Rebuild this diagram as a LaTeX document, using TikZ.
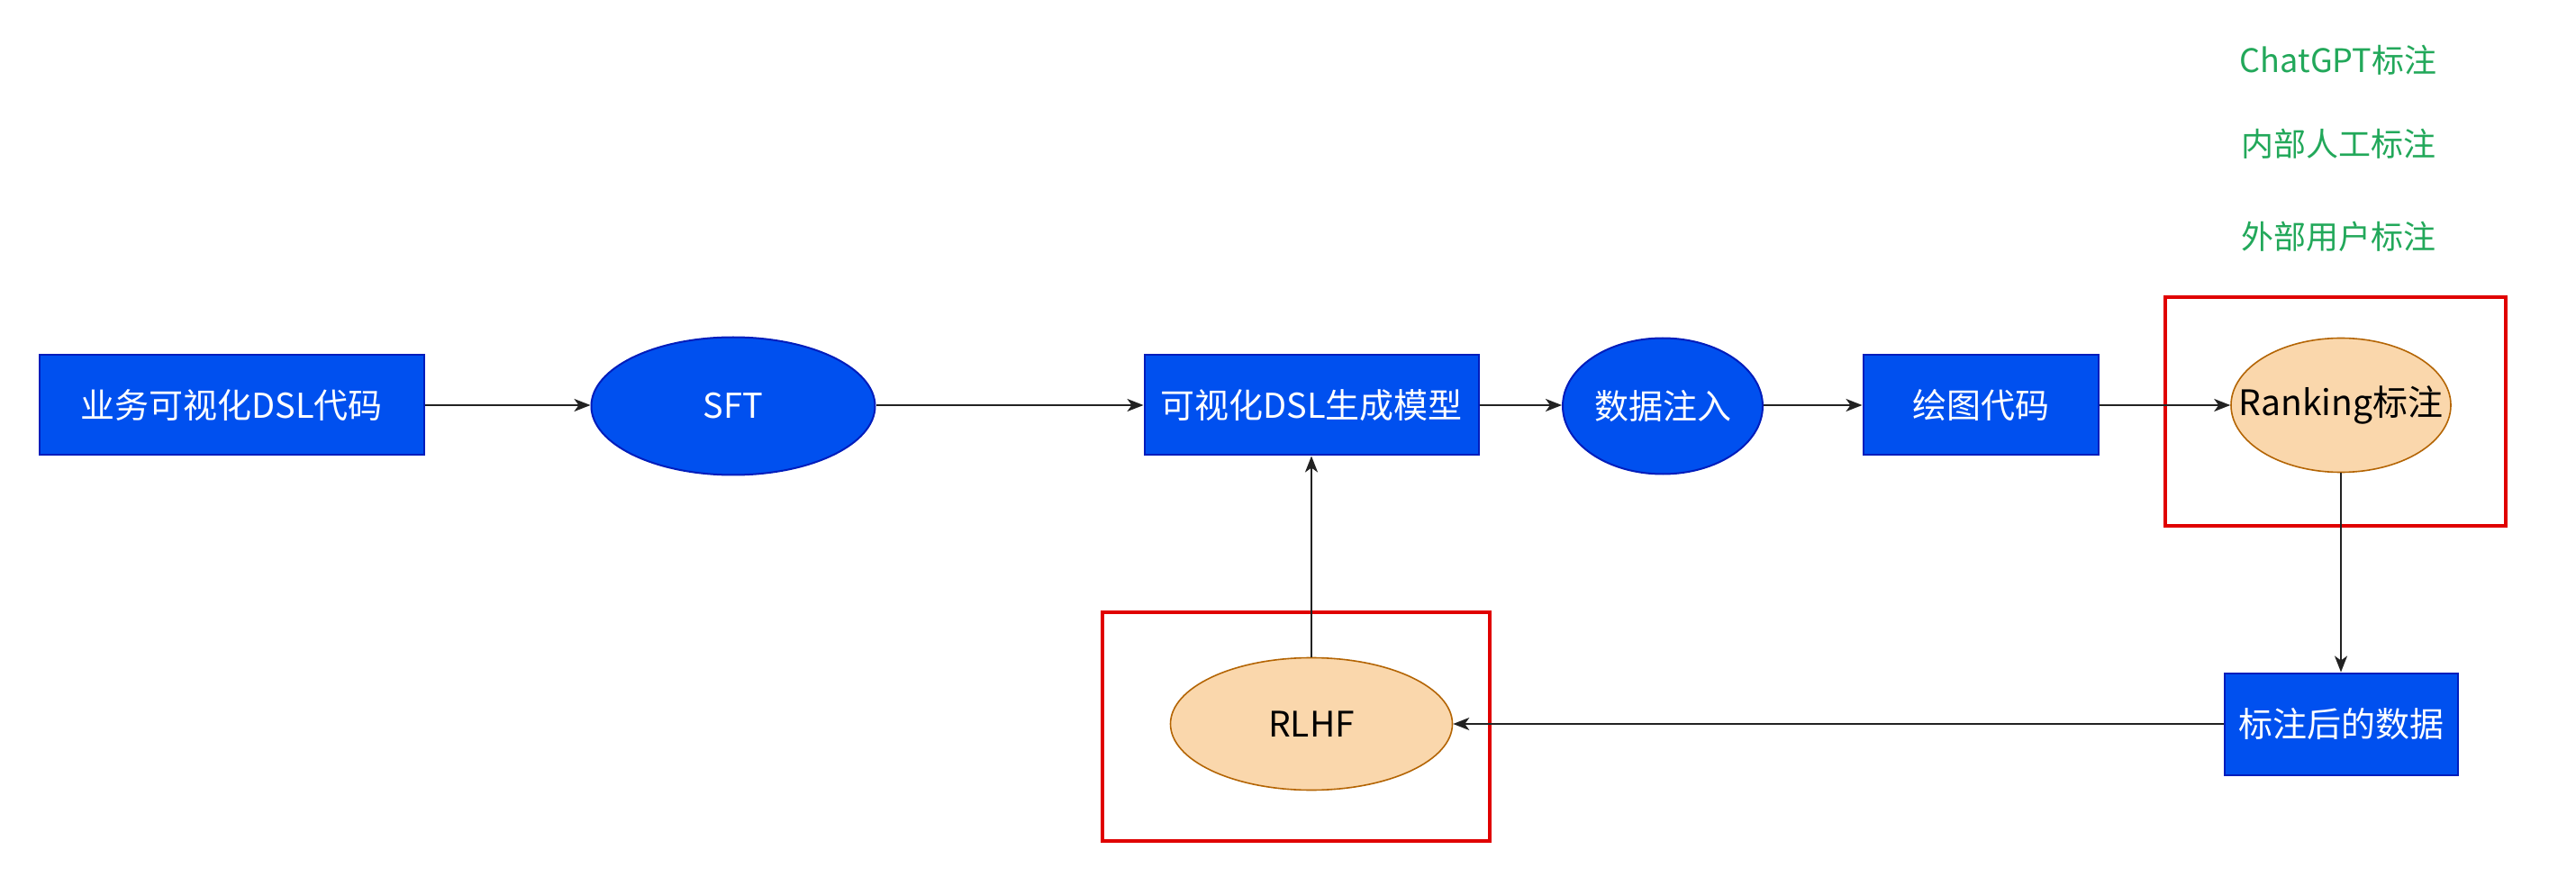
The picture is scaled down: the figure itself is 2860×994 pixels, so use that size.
\documentclass[tikz,border=0pt]{standalone}
\usepackage{fontspec}
\setmainfont{Noto Sans CJK SC}
\usetikzlibrary{shapes.geometric,arrows.meta}
\definecolor{bluefill}{HTML}{0050EF}
\definecolor{bluedraw}{HTML}{001DBC}
\definecolor{orfill}{HTML}{FAD7AC}
\definecolor{ordraw}{HTML}{B46504}
\definecolor{gtext}{HTML}{22A85A}
\definecolor{redbox}{HTML}{E00000}
\definecolor{linec}{HTML}{222222}
\newcommand{\zw}[1]{\makebox[0pt][c]{#1}}
\tikzset{
  bluebox/.style={rectangle,draw=bluedraw,fill=bluefill,line width=1pt,text=white,font=\fontsize{19}{22}\selectfont,inner sep=0pt},
  blueell/.style={ellipse,draw=bluedraw,fill=bluefill,line width=1pt,text=white,font=\fontsize{19}{22}\selectfont,inner sep=0pt},
  orell/.style={ellipse,draw=ordraw,fill=orfill,line width=0.8pt,text=black,font=\fontsize{19.5}{22}\selectfont,inner sep=0pt},
  gnote/.style={text=gtext,font=\fontsize{18}{22}\selectfont,inner sep=0pt},
  redframe/.style={draw=redbox,line width=2pt},
  conn/.style={draw=linec,line width=1pt,-{Stealth[length=9pt,width=7pt,inset=2.5pt]}}
}
\begin{document}
\begin{tikzpicture}[x=0.5pt,y=-0.5pt]
\useasboundingbox (0,0) rectangle (2860,994);
\fill[white] (0,0) rectangle (2860,994);
% red frames
\draw[redframe] (2404,330) rectangle (2782,584);
\draw[redframe] (1224,680) rectangle (1654,934);
% notes
\node[gnote] (n1) at (2596,67) {ChatGPT标注};
\node[gnote] (n2) at (2596,160) {内部人工标注};
\node[gnote] (n3) at (2596,263) {外部用户标注};
% nodes
\node[bluebox,minimum width=213.5pt,minimum height=55.5pt] (dsl) at (257,450) {业务可视化DSL代码};
\node[blueell,minimum width=157.5pt,minimum height=76.5pt] (sft) at (814,451) {\zw{SFT}};
\node[bluebox,minimum width=185.5pt,minimum height=55.5pt] (gen) at (1456,450) {可视化DSL生成模型};
\node[blueell,minimum width=111pt,minimum height=75.5pt] (inj) at (1846,451) {\zw{数据注入}};
\node[bluebox,minimum width=130.5pt,minimum height=55.5pt] (code) at (2199,450) {绘图代码};
\node[orell,minimum width=122pt,minimum height=74.5pt] (rank) at (2599,450) {\zw{Ranking标注}};
\node[bluebox,minimum width=129.5pt,minimum height=56.5pt] (lab) at (2599,804) {标注后的数据};
\node[orell,minimum width=156.5pt,minimum height=73.5pt] (rlhf) at (1456,804) {\zw{RLHF}};
% connectors
\draw[conn] (dsl.east) -- (dsl.east -| sft.west);
\draw[conn] (sft.east |- gen.west) -- (gen.west);
\draw[conn] (gen.east) -- (gen.east -| inj.west);
\draw[conn] (inj.east |- code.west) -- (code.west);
\draw[conn] (code.east) -- (rank.west);
\draw[conn] (rank.south) -- (lab.north);
\draw[conn] (lab.west) -- (rlhf.east);
\draw[conn] (rlhf.north) -- (gen.south);
\end{tikzpicture}
\end{document}
